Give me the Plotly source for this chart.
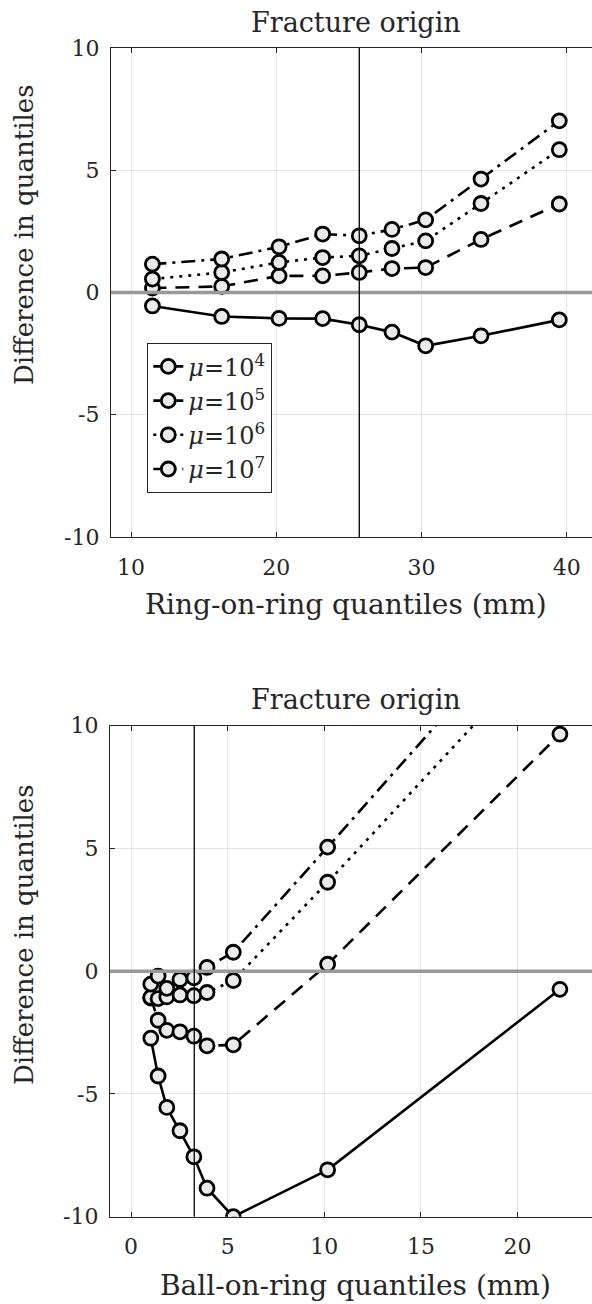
import plotly.graph_objects as go

# ---------------- data ----------------
ror_x = [11.47, 16.24, 20.19, 23.19, 25.71, 27.96, 30.28, 34.09, 39.48]
ror_mu4 = [-0.55, -0.98, -1.06, -1.07, -1.32, -1.62, -2.18, -1.77, -1.12]
ror_mu5 = [0.18, 0.25, 0.68, 0.68, 0.82, 0.98, 1.02, 2.17, 3.62]
ror_mu6 = [0.55, 0.82, 1.23, 1.43, 1.50, 1.80, 2.11, 3.64, 5.84]
ror_mu7 = [1.16, 1.37, 1.87, 2.39, 2.32, 2.58, 2.97, 4.64, 7.02]

bor_x = [1.02, 1.40, 1.85, 2.53, 3.25, 3.93, 5.29, 10.17, 22.19]
bor_mu4 = [-2.73, -4.27, -5.55, -6.50, -7.56, -8.84, -10.0, -8.09, -0.74]
bor_mu5 = [-1.10, -2.00, -2.41, -2.47, -2.65, -3.04, -3.00, 0.28, 9.65]
bor_mu6 = [-1.07, -1.12, -1.05, -0.97, -1.00, -0.87, -0.38, 3.62, 13.8]
bor_mu7 = [-0.53, -0.20, -0.70, -0.34, -0.27, 0.15, 0.77, 5.05, 15.7]

series_names = ["<i>μ</i>=10<sup>4</sup>", "<i>μ</i>=10<sup>5</sup>",
                "<i>μ</i>=10<sup>6</sup>", "<i>μ</i>=10<sup>7</sup>"]
dash_styles = ["solid", "14px,9px", "3px,6px", "14px,6px,3px,6px"]

ror_threshold = 25.71
bor_threshold = 3.27
zero_level = 0

x_ticks_top = [10, 20, 30, 40]
x_ticks_bot = [0, 5, 10, 15, 20]
y_ticks = [-10, -5, 0, 5, 10]
y_tick_labels = ["-10", "-5", "0", "5", "10"]

# ---------------- figure ----------------
W, H = 592, 1304
FONT = "DejaVu Serif"
TXT = "#262626"
AX = "#262626"
GRID = "#e3e3e3"
MFILL = "#e9ebea"

fig = go.Figure()

top_series = [ror_mu4, ror_mu5, ror_mu6, ror_mu7]
bot_series = [bor_mu4, bor_mu5, bor_mu6, bor_mu7]

for i in range(4):
    fig.add_trace(go.Scatter(
        x=ror_x, y=top_series[i], mode="lines+markers", name=series_names[i],
        line=dict(color="black", width=2.6, dash=dash_styles[i]),
        marker=dict(symbol="circle", size=14, color=MFILL,
                    line=dict(color="black", width=2.8)),
        xaxis="x", yaxis="y", showlegend=True))
for i in range(4):
    fig.add_trace(go.Scatter(
        x=bor_x, y=bot_series[i], mode="lines+markers", name=series_names[i],
        line=dict(color="black", width=2.6, dash=dash_styles[i]),
        marker=dict(symbol="circle", size=14, color=MFILL,
                    line=dict(color="black", width=2.8)),
        xaxis="x2", yaxis="y2", showlegend=False))

def px_x(p):
    return p / W

def px_y(p):
    return 1 - p / H

axis_common = dict(
    showline=True, linecolor=AX, linewidth=1.3,
    ticks="inside", ticklen=5, tickcolor=AX, tickwidth=1.3,
    showgrid=True, gridcolor=GRID, gridwidth=1.3,
    zeroline=False, automargin=False,
    tickfont=dict(family=FONT, size=22, color=TXT),
)

fig.update_layout(
    template="none",
    width=W, height=H,
    margin=dict(l=0, r=0, t=0, b=0, autoexpand=False),
    paper_bgcolor="white", plot_bgcolor="white",
    font=dict(family=FONT, color=TXT),
    xaxis=dict(domain=[px_x(111), 1.0], range=[8.62, 41.73],
               tickvals=x_ticks_top, mirror="ticks", anchor="y",
               ticklabelstandoff=10, **axis_common),
    yaxis=dict(domain=[px_y(537), px_y(48)], range=[-10, 10],
               tickvals=y_ticks, ticktext=y_tick_labels, anchor="x",
               ticklabelstandoff=6, **axis_common),
    xaxis2=dict(domain=[px_x(110), 1.0], range=[-1.09, 23.85],
                tickvals=x_ticks_bot, mirror="ticks", anchor="y2",
                ticklabelstandoff=10, **axis_common),
    yaxis2=dict(domain=[px_y(1216.7), px_y(725.6)], range=[-10, 10],
                tickvals=y_ticks, ticktext=y_tick_labels, anchor="x2",
                ticklabelstandoff=6, **axis_common),
    legend=dict(x=px_x(147), y=px_y(343), xanchor="left", yanchor="top",
                bgcolor="white", bordercolor="#262626", borderwidth=1.3,
                font=dict(family=FONT, size=24, color=TXT),
                tracegroupgap=0),
    showlegend=True,
)

# reference lines
for xr, yr, thr in [("x", "y", ror_threshold), ("x2", "y2", bor_threshold)]:
    fig.add_shape(type="line", xref=xr + " domain", yref=yr,
                  x0=0, x1=1, y0=zero_level, y1=zero_level,
                  line=dict(color="#999999", width=3.5), layer="above")
    fig.add_shape(type="line", xref=xr, yref=yr + " domain",
                  x0=thr, x1=thr, y0=0, y1=1,
                  line=dict(color="black", width=1.3), layer="above")

# titles and axis labels
def ann(text, xp, yp, size=27, angle=0):
    fig.add_annotation(text=text, x=px_x(xp), y=px_y(yp), xref="paper",
                       yref="paper", showarrow=False, textangle=angle,
                       xanchor="center", yanchor="middle",
                       font=dict(family=FONT, size=size, color=TXT))

ann("Fracture origin", 356, 22)
ann("Fracture origin", 356, 699)
ann("Ring-on-ring quantiles (mm)", 346, 605, size=28)
ann("Ball-on-ring quantiles (mm)", 355, 1285, size=28)
ann("Difference in quantiles", 24, 235, size=26, angle=-90)
ann("Difference in quantiles", 24, 935, size=26, angle=-90)

fig.write_html("out.html")
